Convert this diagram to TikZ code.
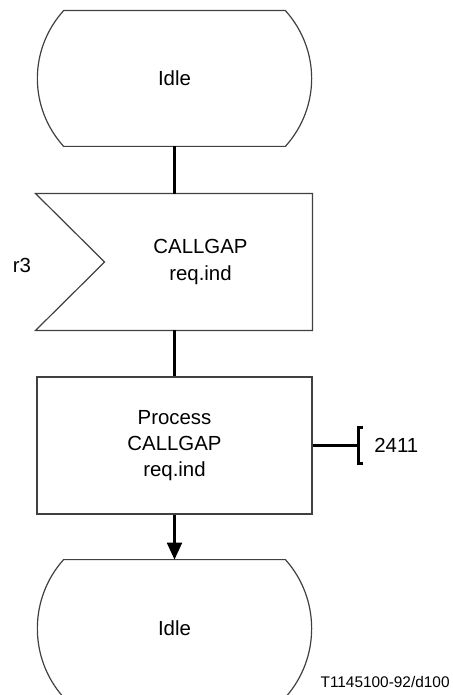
\documentclass[tikz,border=0pt]{standalone}
\usepackage{fontspec}
\setmainfont{Liberation Sans}
\usetikzlibrary{arrows.meta,calc}
\begin{document}
\begin{tikzpicture}[x=0.5pt,y=-0.5pt,
  txt/.style={font=\fontsize{10.2}{13.2}\selectfont, align=center, inner sep=0pt},
  shp/.style={draw=black!75, line width=0.6pt},
  conn/.style={draw=black, line width=1.1pt}]
\useasboundingbox (0,0) rectangle (452,695);
\node[txt, minimum width=110.5pt, minimum height=67.5pt] (idle1) at (174.5,78.5) {Idle};
\node[txt, minimum width=111.5pt, minimum height=68pt] (sig) at (200.5,262) {CALLGAP\\req.ind};
\node[txt] (r3) at (22,265) {r3};
\node[txt, shp, minimum width=137.5pt, minimum height=68.5pt] (proc) at (174.5,445.5) {Process\\CALLGAP\\req.ind};
\node[txt, minimum width=110.5pt, minimum height=68.5pt] (idle2) at (174.5,628.5) {Idle};
\node[txt, anchor=west] (cnum) at (374,445.5) {2411};
\node[txt, font=\fontsize{7.7}{9}\selectfont, anchor=east] (fig) at (450,682) {T1145100-92/d100};
\coordinate (cmt) at (358,445.5);
% state outlines
\foreach \s in {idle1,idle2}
  \draw[shp] (\s.north west) -- (\s.north east) .. controls +(35,39) and +(35,-39) .. (\s.south east)
    -- (\s.south west) .. controls +(-35,-39) and +(-35,39) .. cycle;
% input outline
\draw[shp] (sig.north east) -- (sig.south east) -- ($(sig.south west)+(-53,0)$)
  -- ($(sig.west)+(16,0)$) -- ($(sig.north west)+(-53,0)$) -- cycle;
\draw[conn] (idle1.south) -- (idle1.south |- sig.north);
\draw[conn] (sig.south -| proc.north) -- (proc.north);
\draw[conn, -{Triangle[length=8.5pt,width=7.5pt]}] (proc.south) -- (idle2.north);
\draw[conn] (proc.east) -- (cmt);
\draw[conn, line width=1.5pt] ($(cmt)+(5,-18)$) -| ($(cmt)+(0,18)$) -- ++(5,0);
\end{tikzpicture}
\end{document}
